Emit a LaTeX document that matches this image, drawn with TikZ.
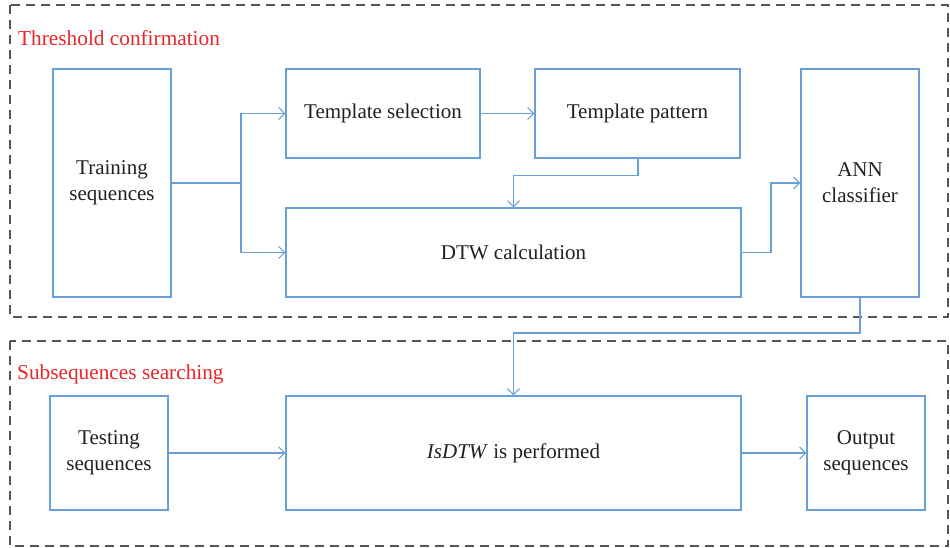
\documentclass[tikz,border=0pt]{standalone}
\usepackage{fontspec}
\setmainfont{Liberation Serif}
\usetikzlibrary{arrows.meta}
\definecolor{lblue}{HTML}{6A9FD6}
\definecolor{lred}{HTML}{E8262A}
\definecolor{dgray}{HTML}{555555}
\definecolor{txt}{HTML}{231F20}
\begin{document}
\begin{tikzpicture}[x=1pt,y=-1pt,
  box/.style={draw=lblue, line width=1.2pt, text=txt, align=center, inner sep=0pt,
    font=\fontsize{21}{26}\selectfont},
  conn/.style={draw=lblue, line width=1.2pt, -{Straight Barb[length=6pt,width=12pt,line width=1.1pt]}},
  plain/.style={draw=lblue, line width=1.2pt},
  group/.style={draw=dgray, line width=1.3pt, dash pattern=on 9pt off 6pt},
  grouplabel/.style={text=lred, anchor=west, inner sep=0pt, font=\fontsize{21.3}{24}\selectfont}]
\useasboundingbox (0,0) rectangle (950,548);
% groups
\draw[group] (10,5) rectangle (948,317);
\draw[group] (10,341) rectangle (948,546);
\node[grouplabel] (l1) at (18,38) {Threshold confirmation};
\node[grouplabel] (l2) at (17,374) {Subsequences searching};
% boxes
\node[box, minimum width=118pt, minimum height=228pt] (train) at (112,183) {Training\\sequences};
\node[box, minimum width=194pt, minimum height=89pt] (tsel) at (383,113.5) {Template selection};
\node[box, minimum width=205pt, minimum height=89pt] (tpat) at (637.5,113.5) {Template pattern};
\node[box, minimum width=455pt, minimum height=89pt] (dtw) at (513.5,252.5) {DTW calculation};
\node[box, minimum width=118pt, minimum height=228pt] (ann) at (860,183) {ANN\\classifier};
\node[box, minimum width=118pt, minimum height=114pt] (test) at (109,453) {Testing\\sequences};
\node[box, minimum width=455pt, minimum height=114pt] (isdtw) at (513.5,453) {\textit{IsDTW} is performed};
\node[box, minimum width=118pt, minimum height=114pt] (out) at (866,453) {Output\\sequences};
% connectors
\coordinate (j1) at (241,183);
\draw[plain] (train.east |- j1) -- (j1);
\draw[conn] (j1) |- (tsel.west);
\draw[conn] (j1) |- (dtw.west);
\draw[conn] (tsel.east) -- (tpat.west);
\coordinate (c1) at (638,175.5);
\coordinate (c2) at (513.5,175.5);
\draw[conn] (tpat.south -| c1) -- (c1) -- (c2) -- (dtw.north -| c2);
\coordinate (c3) at (771,252.5);
\draw[conn] (dtw.east) -- (c3) |- (ann.west);
\coordinate (c4) at (860,333);
\coordinate (c5) at (513.5,333);
\draw[conn] (ann.south) -- (c4) -- (c5) -- (isdtw.north -| c5);
\draw[conn] (test.east) -- (isdtw.west);
\draw[conn] (isdtw.east) -- (out.west);
\end{tikzpicture}
\end{document}
